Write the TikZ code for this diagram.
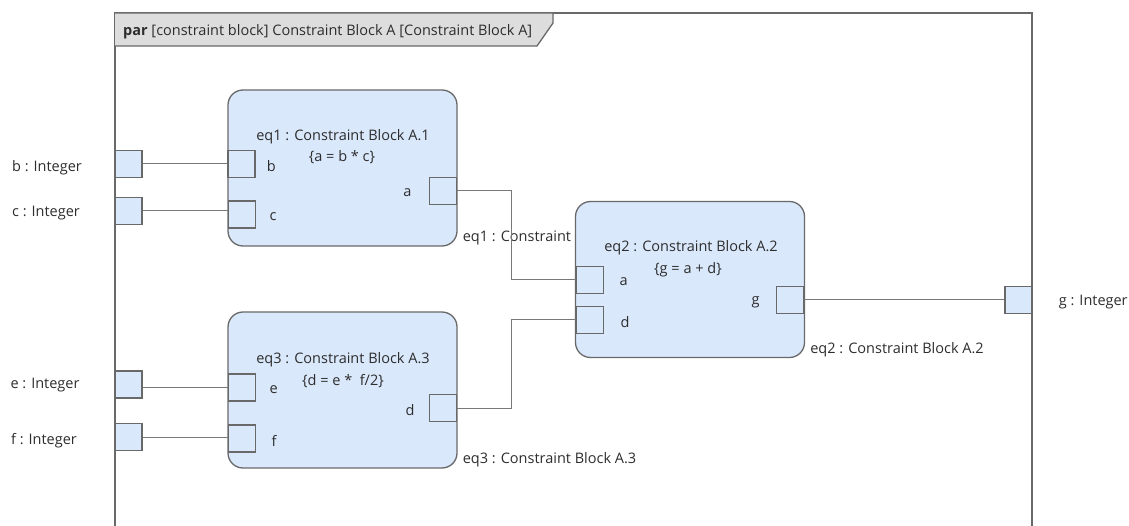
\documentclass[tikz,border=0pt]{standalone}
\usepackage{fontspec}
\setmainfont{Open Sans}
\usetikzlibrary{positioning}
\definecolor{blockblue}{RGB}{218,232,252}
\definecolor{linegray}{RGB}{105,105,105}
\definecolor{linkgray}{RGB}{120,120,120}
\definecolor{tabgray}{RGB}{221,221,221}
\definecolor{textgray}{RGB}{45,45,45}

\begin{document}
\begin{tikzpicture}[
        x=1pt, y=-1pt,
        font=\fontsize{14.5}{17}\selectfont,
        every node/.append style={text=textgray},
        block/.style={draw=linegray, line width=1.3pt, rounded corners=15pt, fill=blockblue,
          minimum width=229pt, minimum height=156pt, inner sep=0pt},
        port/.style={draw=linegray, line width=1.3pt, fill=blockblue,
          minimum width=27pt, minimum height=27pt, inner sep=0pt},
        lbl/.style={inner sep=0pt, yshift=-2.5pt},
        plbl/.style={inner sep=0pt, yshift=-2pt},
        link/.style={draw=linkgray, line width=1pt}
      ]
      \useasboundingbox (0,0) rectangle (1129,526);

      % --- Frame ---
      \draw[draw=linegray, line width=2pt] (115,526) -- (115,13) -- (1032,13) -- (1032,526);
      \filldraw[fill=tabgray, draw=linegray, line width=1.3pt]
        (115,13) -- (553,13) -- (553,23) -- (537,46) -- (115,46);
      \node[lbl, anchor=west] (title) at (123,29)
        {\textbf{par} [constraint block] Constraint Block A [Constraint Block A]};

      % --- Boundary ports ---
      \node[port] (pb) at (128.5,164) {};
      \node[port] (pc) at (128.5,211) {};
      \node[port] (pe) at (128.5,384.5) {};
      \node[port] (pf) at (128.5,437) {};
      \node[port] (pg) at (1018.5,300) {};
      \node[lbl] (pbname) at (47,165) {b : Integer};
      \node[lbl] (pcname) at (46,211) {c : Integer};
      \node[lbl] (pename) at (45,383) {e : Integer};
      \node[lbl] (pfname) at (44,438) {f : Integer};
      \node[lbl, right=26pt of pg] (pgname) {g : Integer};

      % --- eq1 ---
      \node[block] (eq1) at (342.5,168) {};
      \node[port, anchor=west] (eq1b) at (eq1.west |- pb) {};
      \node[port, anchor=west] (eq1c) at (228,214.5) {};
      \node[port, anchor=east] (eq1a) at (457,191) {};
      \node[lbl] (eq1title) at (343,134) {eq1 : Constraint Block A.1};
      \node[lbl] (eq1rule) at (342,155) {\{a = b * c\}};
      \node[plbl, right=11pt of eq1b] {b};
      \node[plbl, right=13pt of eq1c] {c};
      \node[plbl, left=17pt of eq1a] {a};
      \node[lbl, anchor=west] (eq1name) at ([xshift=5pt, yshift=11pt]eq1.south east)
        {eq1 : Constraint Block A.1};

      % --- eq3 ---
      \node[block] (eq3) at (342.5,390) {};
      \node[port, anchor=west] (eq3e) at (228,387.5) {};
      \node[port, anchor=west] (eq3f) at (228,438.5) {};
      \node[port, anchor=east] (eq3d) at (457,408) {};
      \node[lbl] (eq3title) at (343,357) {eq3 : Constraint Block A.3};
      \node[lbl] (eq3rule) at (343,379) {\{d = e *\ \ f/2\}};
      \node[plbl, right=13pt of eq3e] {e};
      \node[plbl, right=15pt of eq3f] {f};
      \node[plbl, left=14pt of eq3d] {d};
      \node[lbl, anchor=west] (eq3name) at ([xshift=5pt, yshift=11pt]eq3.south east)
        {eq3 : Constraint Block A.3};

      % --- eq2 (covers the tail of eq1's name) ---
      \node[block] (eq2) at (690,279.5) {};
      \node[port, anchor=west] (eq2a) at (576,280) {};
      \node[port, anchor=west] (eq2d) at (576,320) {};
      \node[port, anchor=east] (eq2g) at (804,300) {};
      \node[lbl] (eq2title) at (691,245) {eq2 : Constraint Block A.2};
      \node[lbl] (eq2rule) at (688,267) {\{g = a + d\}};
      \node[plbl, right=15pt of eq2a] {a};
      \node[plbl, right=16pt of eq2d] {d};
      \node[plbl, left=16pt of eq2g] {g};
      \node[lbl, anchor=west] (eq2name) at ([xshift=5pt, yshift=11pt]eq2.south east)
        {eq2 : Constraint Block A.2};

      % --- Connectors ---
      \coordinate (bus) at (511,300);
      \draw[link] (pb) -- (pb -| eq1b.west);
      \draw[link] (pc) -- (pc -| eq1c.west);
      \draw[link] (eq3e) -- (eq3e -| pe.east);
      \draw[link] (pf) -- (pf -| eq3f.west);
      \draw[link] (eq1a) -- (eq1a -| bus) |- (eq2a);
      \draw[link] (eq3d) -- (eq3d -| bus) |- (eq2d);
      \draw[link] (eq2g) -- (pg);

    \end{tikzpicture}
\end{document}
